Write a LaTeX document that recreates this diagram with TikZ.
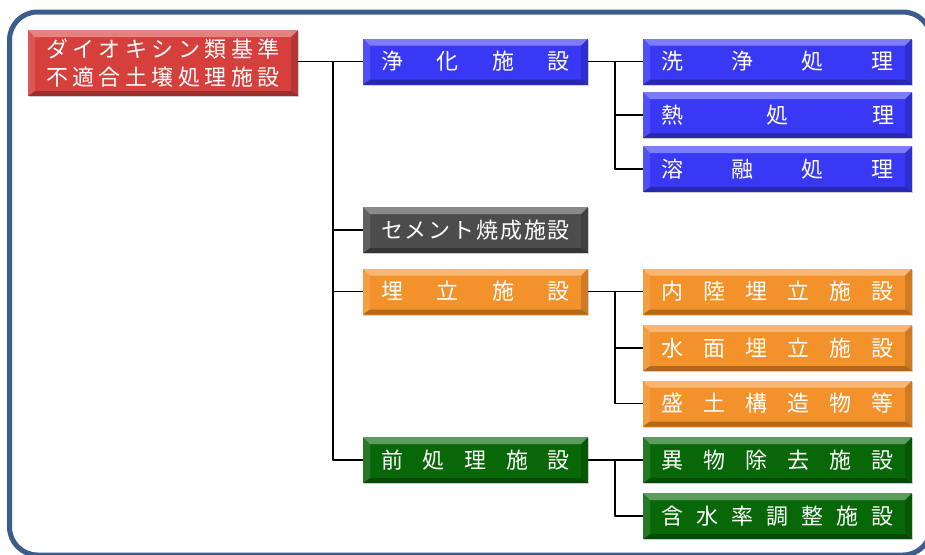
\documentclass[tikz,border=0pt]{standalone}
\usepackage{fontspec}
\setmainfont{Noto Sans CJK JP}
\usetikzlibrary{shadows}
\definecolor{framec}{RGB}{60,92,142}
\definecolor{redc}{RGB}{214,64,60}
\definecolor{bluec}{RGB}{56,56,245}
\definecolor{grayc}{RGB}{76,76,76}
\definecolor{orangec}{RGB}{243,145,42}
\definecolor{greenc}{RGB}{8,104,8}
\newcommand\spread[2]{\makebox[#1]{#2}}
\tikzset{
	bevel/.style={path picture={
		\fill[white,opacity=.35] (path picture bounding box.north west)--(path picture bounding box.north east)--([xshift=-7pt,yshift=-7pt]path picture bounding box.north east)--([xshift=7pt,yshift=-7pt]path picture bounding box.north west)--cycle;
		\fill[black,opacity=.28] (path picture bounding box.south west)--(path picture bounding box.south east)--([xshift=-7pt,yshift=5pt]path picture bounding box.south east)--([xshift=7pt,yshift=5pt]path picture bounding box.south west)--cycle;
		\fill[black,opacity=.15] (path picture bounding box.north east)--(path picture bounding box.south east)--([xshift=-7pt,yshift=5pt]path picture bounding box.south east)--([xshift=-7pt,yshift=-7pt]path picture bounding box.north east)--cycle;
		\fill[white,opacity=.12] (path picture bounding box.north west)--(path picture bounding box.south west)--([xshift=7pt,yshift=5pt]path picture bounding box.south west)--([xshift=7pt,yshift=-7pt]path picture bounding box.north west)--cycle;
	}},
	fbox/.style={rectangle, bevel, text=white, inner sep=0pt, drop shadow={shadow xshift=1.2pt,shadow yshift=-1.2pt,opacity=.35}, font=\fontsize{22}{28}\selectfont},
	lone/.style={fbox, minimum width=225pt, minimum height=46pt},
	ltwo/.style={fbox, minimum width=269pt, minimum height=46pt},
	conn/.style={line width=1.8pt, black}
}
\begin{document}
\begin{tikzpicture}[x=1pt,y=-1pt, line join=round]
	\useasboundingbox (0,0) rectangle (925,554);
	\begin{scope}
		\clip (0,0) rectangle (925,554);
		\draw[framec, line width=5pt, rounded corners=28pt] (9.5,12) rectangle (931,555);
	\end{scope}
	% root
	\node[fbox, fill=redc, minimum width=270pt, minimum height=66pt, align=center] (root) at (163,63)
		{\spread{234pt}{ダ\hfill イ\hfill オ\hfill キ\hfill シ\hfill ン\hfill 類\hfill 基\hfill 準}\\
		 \spread{234pt}{不\hfill 適\hfill 合\hfill 土\hfill 壌\hfill 処\hfill 理\hfill 施\hfill 設}};
	% level 1
	\node[lone, fill=bluec] (jouka) at (475.5,61.5) {\spread{189pt}{浄\hfill 化\hfill 施\hfill 設}};
	\node[lone, fill=grayc] (cement) at (475.5,230) {\spread{189pt}{セ\hfill メ\hfill ン\hfill ト\hfill 焼\hfill 成\hfill 施\hfill 設}};
	\node[lone, fill=orangec] (umetate) at (475.5,291.5) {\spread{189pt}{埋\hfill 立\hfill 施\hfill 設}};
	\node[lone, fill=greenc] (maeshori) at (475.5,460) {\spread{189pt}{前\hfill 処\hfill 理\hfill 施\hfill 設}};
	% level 2
	\node[ltwo, fill=bluec] (senjou) at (777.5,61.5) {\spread{233pt}{洗\hfill 浄\hfill 処\hfill 理}};
	\node[ltwo, fill=bluec] (netsu) at (777.5,115) {\spread{233pt}{熱\hfill 処\hfill 理}};
	\node[ltwo, fill=bluec] (youyu) at (777.5,169) {\spread{233pt}{溶\hfill 融\hfill 処\hfill 理}};
	\node[ltwo, fill=orangec] (nairiku) at (777.5,291.5) {\spread{233pt}{内\hfill 陸\hfill 埋\hfill 立\hfill 施\hfill 設}};
	\node[ltwo, fill=orangec] (suimen) at (777.5,348) {\spread{233pt}{水\hfill 面\hfill 埋\hfill 立\hfill 施\hfill 設}};
	\node[ltwo, fill=orangec] (morido) at (777.5,403.5) {\spread{233pt}{盛\hfill 土\hfill 構\hfill 造\hfill 物\hfill 等}};
	\node[ltwo, fill=greenc] (ibutsu) at (777.5,460) {\spread{233pt}{異\hfill 物\hfill 除\hfill 去\hfill 施\hfill 設}};
	\node[ltwo, fill=greenc] (gansui) at (777.5,516) {\spread{233pt}{含\hfill 水\hfill 率\hfill 調\hfill 整\hfill 施\hfill 設}};
	% connectors
	\coordinate (bus1) at (333,61.5);
	\draw[conn] (root.east |- jouka.west)--(jouka.west);
	\foreach \n in {cement,umetate,maeshori} \draw[conn] (bus1) |- (\n.west);
	\coordinate (bus2) at (615,61.5);
	\draw[conn] (jouka.east)--(senjou.west);
	\foreach \n in {netsu,youyu} \draw[conn] (bus2) |- (\n.west);
	\coordinate (bus3) at (615,291.5);
	\draw[conn] (umetate.east)--(nairiku.west);
	\foreach \n in {suimen,morido} \draw[conn] (bus3) |- (\n.west);
	\coordinate (bus4) at (615,460);
	\draw[conn] (maeshori.east)--(ibutsu.west);
	\draw[conn] (bus4) |- (gansui.west);
\end{tikzpicture}
\end{document}
